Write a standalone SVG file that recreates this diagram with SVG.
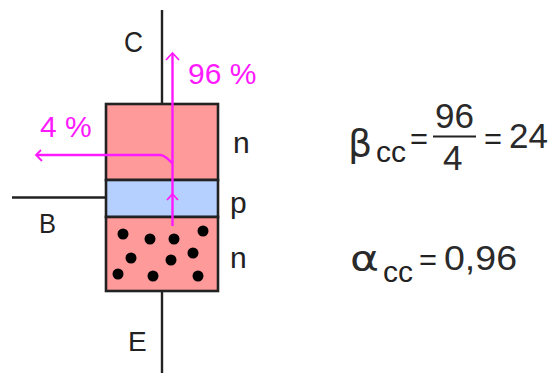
<svg xmlns="http://www.w3.org/2000/svg" width="552" height="374" viewBox="0 0 552 374">
<style>
.w{stroke:#222;stroke-width:2.4;fill:none}
.box{stroke:#222;stroke-width:2.6}
.m{stroke:#ff19ff;stroke-width:2.4;fill:none}
.h{stroke:#ff19ff;stroke-width:1.8;fill:none}
text{font-family:"Liberation Sans",Arial,sans-serif;fill:#222}
.pk{fill:#ff19ff;font-size:30px}
.l{font-size:30px}
.f{font-size:35px;fill:#2a2a2a}
.g{font-family:"DejaVu Sans",sans-serif;fill:#2a2a2a}
.s{font-size:30px}
.d{fill:#000}
</style>
<rect width="552" height="374" fill="#fff"/>
<g id="connectors">
<path class="w" d="M162 10V104M162 291V373M12 197.500H106"/>
</g>
<g id="layer-collector"><rect class="box" x="106" y="104" width="112" height="76" fill="#ff9a9a"/></g>
<g id="layer-base"><rect class="box" x="106" y="180" width="112" height="37" fill="#b5cfff"/></g>
<g id="layer-emitter"><rect class="box" x="106" y="217" width="112" height="74" fill="#ff9a9a"/>
<g class="d"><circle cx="123" cy="234" r="5.500"/><circle cx="150" cy="239" r="5.500"/><circle cx="174" cy="239" r="5.500"/><circle cx="203" cy="231" r="5.500"/><circle cx="131" cy="258" r="5.500"/><circle cx="171" cy="260" r="5.500"/><circle cx="193" cy="253" r="5.500"/><circle cx="118" cy="274" r="5.500"/><circle cx="153" cy="276" r="5.500"/><circle cx="198" cy="276" r="5.500"/></g></g>
<g id="currents">
<path class="m" d="M172.500 226V54M172 163C168 159 165 155 160 155H37"/>
<path class="h" d="M166 60L172.500 53L179 60M41 150L36 155L42 161M167 200L172.500 194L178 200"/>
</g>
<g id="labels">
<text class="l" x="124" y="52" textLength="19" lengthAdjust="spacingAndGlyphs">C</text>
<text class="pk" x="188" y="84">96 %</text>
<text class="pk" x="40" y="137">4 %</text>
<text class="l" x="233" y="153">n</text>
<text class="l" x="230" y="213">p</text>
<text class="l" x="230" y="268">n</text>
<text x="39" y="233" font-size="28" textLength="17" lengthAdjust="spacingAndGlyphs">B</text>
<text x="128" y="351" font-size="28">E</text>
</g>
<g id="formula-beta">
<text class="g" x="348" y="156" font-size="38">β</text>
<text class="s" x="376" y="162">cc</text>
<text class="l" x="410" y="149" textLength="18" lengthAdjust="spacingAndGlyphs">=</text>
<text class="f" x="435" y="128">96</text>
<path d="M433 136.500H476" stroke="#222" stroke-width="2" fill="none"/>
<text class="f" x="443" y="170">4</text>
<text class="l" x="484" y="149" textLength="18" lengthAdjust="spacingAndGlyphs">=</text>
<text class="f" x="509" y="148">24</text>
</g>
<g id="formula-alpha">
<text class="g" x="350" y="271" font-size="36" textLength="29" lengthAdjust="spacingAndGlyphs">α</text>
<text class="s" x="383" y="282">cc</text>
<text class="l" x="419" y="270" textLength="18" lengthAdjust="spacingAndGlyphs">=</text>
<text class="f" x="444" y="270" textLength="73" lengthAdjust="spacingAndGlyphs">0,96</text>
</g>
</svg>
